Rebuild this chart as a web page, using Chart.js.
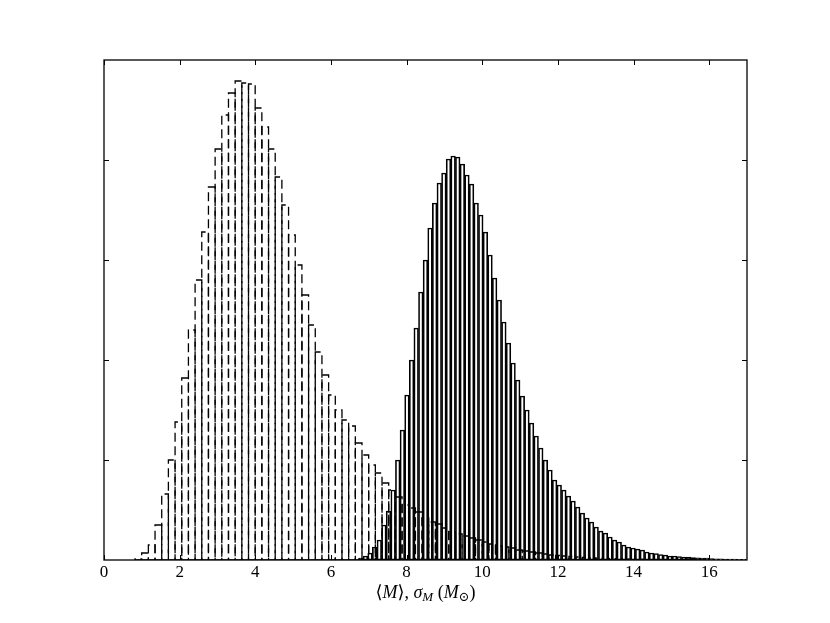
<!DOCTYPE html>
<html>
<head>
<meta charset="utf-8">
<script src="https://cdn.jsdelivr.net/npm/chart.js@4"></script>
<style>
  html, body { margin: 0; padding: 0; background: #fff; }
  #wrap { width: 830px; height: 623px; position: relative; }
</style>
</head>
<body>
<div id="wrap"><canvas id="c"></canvas></div>
<script>
// ---- data ----
// dashed histogram: uniform bins starting at dashedBinStart, width dashedBinWidth
const dashedBinStart = 0.82;
const dashedBinWidth = 0.1765;
const dashedHeights = [
  0.01, 0.07, 0.15, 0.35, 0.66, 1.00, 1.38, 1.82, 2.30, 2.80,
  3.28, 3.73, 4.11, 4.45, 4.67, 4.79, 4.77, 4.76, 4.52, 4.33,
  4.11, 3.83, 3.55, 3.25, 2.95, 2.65, 2.35, 2.08, 1.85, 1.65,
  1.50, 1.40, 1.34, 1.17, 1.05, 0.95, 0.87, 0.77, 0.70, 0.63,
  0.55, 0.52, 0.48, 0.42, 0.38, 0.36, 0.32, 0.28, 0.26, 0.24,
  0.22, 0.20, 0.18, 0.16, 0.14, 0.13, 0.12, 0.10, 0.09, 0.08,
  0.07, 0.06, 0.05, 0.045, 0.04, 0.035, 0.03, 0.025, 0.02, 0.018,
  0.015, 0.012, 0.01, 0.008, 0.006, 0.005, 0.004, 0.003, 0.002
];
// solid histogram
const solidBinStart = 6.729;
const solidBinWidth = 0.122;
const solidHeights = [
  0.02, 0.04, 0.07, 0.13, 0.20, 0.35, 0.49, 0.70, 1.00, 1.30,
  1.65, 2.00, 2.32, 2.68, 3.00, 3.32, 3.57, 3.77, 3.87, 4.01,
  4.04, 4.03, 3.96, 3.85, 3.76, 3.57, 3.45, 3.28, 3.05, 2.82,
  2.60, 2.38, 2.17, 1.97, 1.80, 1.64, 1.50, 1.37, 1.24, 1.12,
  1.00, 0.90, 0.80, 0.75, 0.70, 0.64, 0.59, 0.53, 0.47, 0.42,
  0.38, 0.33, 0.29, 0.27, 0.23, 0.20, 0.18, 0.15, 0.13, 0.12,
  0.11, 0.10, 0.08, 0.07, 0.065, 0.055, 0.05, 0.04, 0.04, 0.035,
  0.03, 0.028, 0.025, 0.022, 0.02, 0.018, 0.015, 0.012, 0.011, 0.01,
  0.009, 0.008, 0.007, 0.006
];
const xTickValues = [0, 2, 4, 6, 8, 10, 12, 14, 16];
const yTickValues = [1, 2, 3, 4];
const xRange = [0, 17];
const yRange = [0, 5];
// axis title pieces: [text, italic, subscript]
const axisTitleParts = [
  ['\u27E8', false, false], ['M', true, false], ['\u27E9', false, false], [', ', false, false],
  ['\u03C3', true, false], ['M', true, true], [' (', false, false], ['M', true, false],
  ['\u2299', false, true], [')', false, false]
];

// ---- build points (bin centres) ----
const dashedPoints = dashedHeights.map((h, i) => ({ x: dashedBinStart + dashedBinWidth * (i + 0.5), y: h }));
const solidPoints = solidHeights.map((h, i) => ({ x: solidBinStart + solidBinWidth * (i + 0.5), y: h }));

const SERIF = '"Liberation Serif", "DejaVu Serif", serif';

const dashedOutline = {
  id: 'dashedOutline',
  afterDatasetsDraw(chart) {
    const meta = chart.getDatasetMeta(0);
    const ctx = chart.ctx, a = chart.chartArea;
    ctx.save();
    ctx.beginPath();
    ctx.rect(a.left, a.top, a.right - a.left, a.bottom - a.top);
    ctx.clip();
    ctx.strokeStyle = '#000';
    ctx.lineWidth = 1.3;
    ctx.setLineDash([9, 4.5]);
    meta.data.forEach(bar => {
      const p = bar.getProps(['x', 'y', 'base', 'width'], true);
      const x0 = p.x - p.width / 2, x1 = p.x + p.width / 2;
      ctx.beginPath();
      ctx.moveTo(x0, p.base);
      ctx.lineTo(x1, p.base);
      ctx.lineTo(x1, p.y);
      ctx.lineTo(x0, p.y);
      ctx.closePath();
      ctx.stroke();
    });
    ctx.restore();
  }
};

const frameAndTicks = {
  id: 'frameAndTicks',
  afterDraw(chart) {
    const ctx = chart.ctx, a = chart.chartArea;
    const sx = chart.scales.x, sy = chart.scales.y;
    ctx.save();
    ctx.strokeStyle = '#000';
    ctx.lineWidth = 1;
    const L = 5;
    ctx.beginPath();
    xTickValues.forEach(v => {
      const px = Math.round(sx.getPixelForValue(v)) + 0.5;
      ctx.moveTo(px, a.bottom); ctx.lineTo(px, a.bottom - L);
      ctx.moveTo(px, a.top); ctx.lineTo(px, a.top + L);
    });
    yTickValues.forEach(v => {
      const py = Math.round(sy.getPixelForValue(v)) + 0.5;
      ctx.moveTo(a.left, py); ctx.lineTo(a.left + L, py);
      ctx.moveTo(a.right, py); ctx.lineTo(a.right - L, py);
    });
    ctx.stroke();
    ctx.lineWidth = 1.3;
    ctx.strokeRect(a.left, a.top, a.right - a.left, a.bottom - a.top);

    // axis title
    const base = 18, sub = 13;
    const widths = axisTitleParts.map(([t, it, sb]) => {
      ctx.font = (it ? 'italic ' : '') + (sb ? sub : base) + 'px ' + SERIF;
      return ctx.measureText(t).width;
    });
    const total = widths.reduce((s, w) => s + w, 0);
    let x = (a.left + a.right) / 2 - total / 2;
    const yb = 598;
    ctx.fillStyle = '#000';
    ctx.textBaseline = 'alphabetic';
    ctx.textAlign = 'left';
    axisTitleParts.forEach(([t, it, sb], i) => {
      ctx.font = (it ? 'italic ' : '') + (sb ? sub : base) + 'px ' + SERIF;
      ctx.fillText(t, x, sb ? yb + 3 : yb);
      x += widths[i];
    });
    ctx.restore();
  }
};

const chart = new Chart(document.getElementById('c'), {
  type: 'bar',
  data: {
    datasets: [
      { label: 'dashed', data: dashedPoints, backgroundColor: 'rgba(0,0,0,0)', borderWidth: 0, grouped: false },
      { label: 'solid', data: solidPoints, backgroundColor: 'rgba(0,0,0,0)', borderColor: '#000', borderWidth: 1, borderSkipped: false, grouped: false }
    ]
  },
  options: {
    responsive: true,
    maintainAspectRatio: false,
    animation: false,
    layout: { padding: { left: 104, right: 83, top: 60, bottom: 0 } },
    plugins: { legend: { display: false }, tooltip: { enabled: false } },
    scales: {
      x: {
        type: 'linear',
        offset: false,
        min: xRange[0], max: xRange[1],
        afterBuildTicks: s => { s.ticks = xTickValues.map(v => ({ value: v })); },
        afterFit: s => { s.height = 63; },
        grid: { display: false, drawTicks: false, offset: false },
        border: { display: false },
        ticks: { color: '#000', padding: 2, font: { family: SERIF, size: 17 }, maxRotation: 0 }
      },
      y: {
        display: false,
        min: yRange[0], max: yRange[1]
      }
    }
  },
  plugins: [dashedOutline, frameAndTicks]
});

function fitBarWidths() {
  const s = chart.scales.x;
  const px = w => s.getPixelForValue(w) - s.getPixelForValue(0);
  chart.data.datasets[0].barThickness = px(dashedBinWidth);
  chart.data.datasets[1].barThickness = px(solidBinWidth);
  chart.update('none');
}
fitBarWidths();
</script>
</body>
</html>
